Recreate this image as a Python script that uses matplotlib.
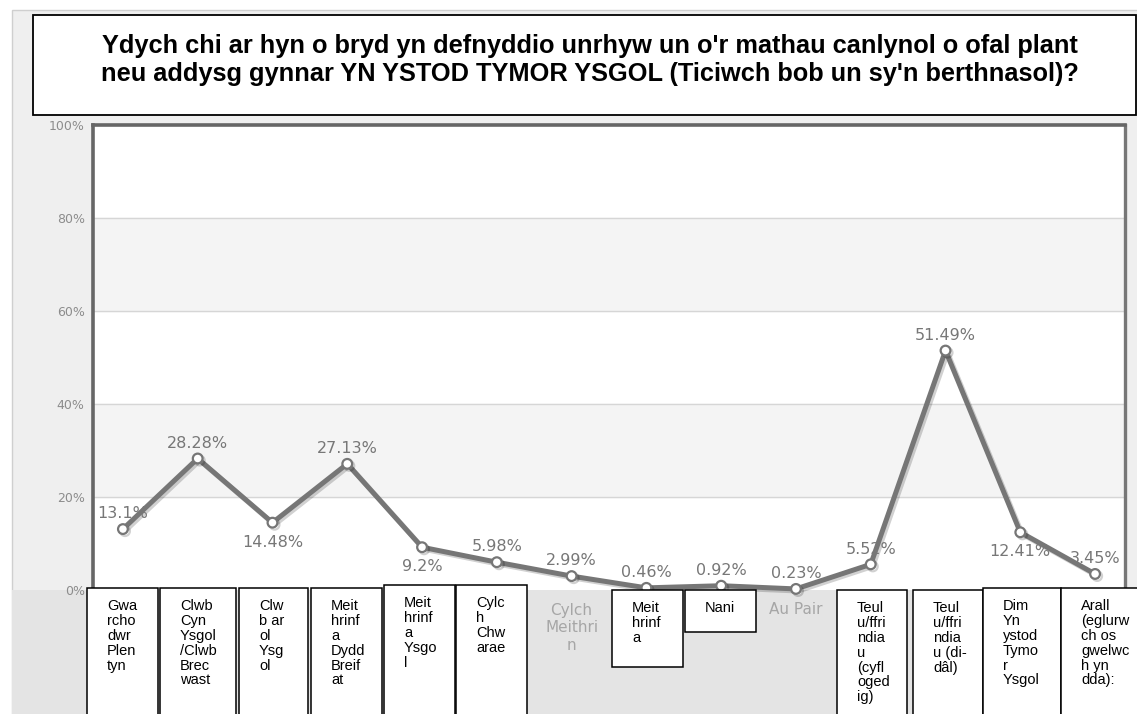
#!/usr/bin/env python3

# Line chart of childcare use during school term (Welsh survey question)

import numpy as np
import matplotlib.pyplot as plt
from matplotlib.patches import Rectangle
import matplotlib.patheffects as pe

W, H = 1137, 714

title = ("Ydych chi ar hyn o bryd yn defnyddio unrhyw un o'r mathau canlynol o ofal plant\n"
         "neu addysg gynnar YN YSTOD TYMOR YSGOL (Ticiwch bob un sy'n berthnasol)?")

# category labels, wrapped the way they appear in the picture
labels = ["Gwa\nrcho\ndwr\nPlen\ntyn",
          "Clwb\nCyn\nYsgol\n/Clwb\nBrec\nwast",
          "Clw\nb ar\nol\nYsg\nol",
          "Meit\nhrinf\na\nDydd\nBreif\nat",
          "Meit\nhrinf\na\nYsgo\nl",
          "Cylc\nh\nChw\narae",
          "Cylch\nMeithri\nn",
          "Meit\nhrinf\na",
          "Nani",
          "Au Pair",
          "Teul\nu/ffri\nndia\nu\n(cyfl\noged\nig)",
          "Teul\nu/ffri\nndia\nu (di-\ndâl)",
          "Dim\nYn\nystod\nTymo\nr\nYsgol",
          "Arall\n(eglurw\nch os\ngwelwc\nh yn\ndda):"]
values = [13.1, 28.28, 14.48, 27.13, 9.2, 5.98, 2.99, 0.46, 0.92, 0.23,
          5.52, 51.49, 12.41, 3.45]
value_text = ["13.1%", "28.28%", "14.48%", "27.13%", "9.2%", "5.98%", "2.99%",
              "0.46%", "0.92%", "0.23%", "5.52%", "51.49%", "12.41%", "3.45%"]
yticks = [0, 20, 40, 60, 80, 100]

# labels drawn below their point instead of above
below = [2, 4, 12]
# categories that kept the chart's own axis label (no white box)
plain = [6, 9]
# pasted label boxes in pixels: left, right, top, bottom
boxes = {0: (87, 158, 588, 720), 1: (160, 236, 588, 720), 2: (239, 308, 588, 720),
         3: (311, 382, 588, 720), 4: (384, 455, 585, 720), 5: (456, 527, 585, 720),
         7: (612, 683, 590, 667), 8: (685, 756, 590, 632),
         10: (837, 907, 590, 720), 11: (913, 983, 590, 720),
         12: (983, 1061, 588, 720), 13: (1061, 1145, 588, 720)}


def fx(x):
    return x / W


def fy(y):
    return 1 - y / H


def prect(x0, x1, y0, y1, **kw):
    return Rectangle((fx(x0), fy(y1)), fx(x1) - fx(x0), fy(y0) - fy(y1),
                     transform=fig.transFigure, **kw)


fig = plt.figure(figsize=(W / 100, H / 100), dpi=100, facecolor='white')

# chart background
fig.add_artist(prect(12, 1145, 10, 720, facecolor='#efefef', edgecolor='#cfcfcf',
                     linewidth=1, zorder=-3))
fig.add_artist(prect(12, 1145, 590, 720, facecolor='#e4e4e4', edgecolor='none',
                     zorder=-2))

ax = fig.add_axes([fx(93), fy(590), fx(1125) - fx(93), fy(125) - fy(590)])
ax.set_facecolor('white')
for lo in (20, 60):
    ax.axhspan(lo, lo + 20, color='#f4f4f4', zorder=0)
for t in yticks[1:-1]:
    ax.axhline(t, color='#d6d6d6', lw=1, zorder=1)

x = np.arange(len(values))
ax.plot(x, values, color='#767676', lw=3.6, marker='o', markersize=7,
        markerfacecolor='white', markeredgecolor='#767676', markeredgewidth=1.6,
        solid_joinstyle='round', zorder=3, clip_on=False,
        path_effects=[pe.SimpleLineShadow(offset=(1.5, -1.5), alpha=0.18),
                      pe.Normal()])

for i, (v, s) in enumerate(zip(values, value_text)):
    dy = -14 if i in below else 11
    ax.annotate(s, (i, v), xytext=(0, dy), textcoords='offset points',
                ha='center', va='center', fontsize=11.5, color='#777777',
                family='DejaVu Sans', zorder=4)

ax.set_xlim(-0.4, len(values) - 0.6)
ax.set_ylim(0, 100)
ax.set_yticks(yticks)
ax.set_yticklabels(['%d%%' % t for t in yticks], fontsize=9, color='#8c8c8c')
ax.set_xticks([i for i in plain])
ax.set_xticklabels([labels[i] for i in plain], fontsize=11, color='#a6a6a6',
                   linespacing=1.25, va='top')
ax.tick_params(length=0)
ax.tick_params(axis='y', pad=6)
ax.tick_params(axis='x', pad=9)

ax.spines['bottom'].set_visible(False)
for side in ('left', 'top'):
    ax.spines[side].set_color('#666666')
    ax.spines[side].set_linewidth(2.6)
ax.spines['right'].set_color('#777777')
ax.spines['right'].set_linewidth(2.4)

# title box
fig.add_artist(prect(33, 1136, 15, 115, facecolor='white', edgecolor='black',
                     linewidth=1.3, zorder=5))
fig.text(fx(590), fy(60), title, ha='center', va='center', fontsize=18.3,
         fontweight='bold', family='Liberation Sans', linespacing=1.2,
         zorder=6)

# white label boxes over the x axis
for i, (x0, x1, y0, y1) in boxes.items():
    fig.add_artist(prect(x0, x1, y0, y1, facecolor='white', edgecolor='black',
                         linewidth=1.1, zorder=5))
    fig.text(fx(x0 + 20), fy(y0 + 11), labels[i], ha='left', va='top',
             fontsize=10.5, family='Liberation Sans', linespacing=1.08,
             zorder=6)

fig.savefig('out.png', dpi=100, facecolor=fig.get_facecolor())
